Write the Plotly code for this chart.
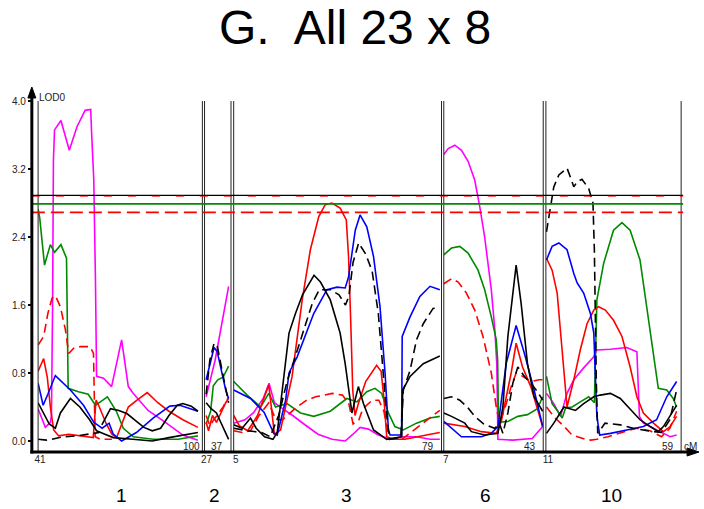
import plotly.graph_objects as go

W, H = 704, 509

# ---------------- data ----------------
CHROMS = ["1", "2", "3", "6", "10"]
CM_START = [41, 27, 5, 7, 11]
CM_END = [100, 37, 79, 43, 59]
Y_TICKS = [0.0, 0.8, 1.6, 2.4, 3.2, 4.0]
Y_TICK_TEXT = ["0.0", "0.8", "1.6", "2.4", "3.2", "4.0"]
THRESH_BLACK = 2.89
THRESH_GREEN = 2.79
THRESH_RED = 2.69

# chromosome 1  (cM, LOD)
C1_MAGENTA = [(41, 0.38), (43.6, 0.16), (45.4, 0.22), (45.8, 0.3), (46.2, 1.6), (46.5, 3.3), (46.9, 3.66),
              (49.2, 3.77), (52.2, 3.42), (55, 3.7), (57.9, 3.89), (59.9, 3.9), (60.2, 3.64), (61.0, 3.07),
              (61.6, 1.9), (62.0, 0.76), (64.5, 0.74), (67.4, 0.64), (71.0, 1.19), (73.4, 0.64), (75.2, 0.56),
              (80.5, 0.36), (87.1, 0.21), (93.0, 0.07), (98.4, 0.01)]
C1_GREEN = [(41, 2.73), (41.6, 2.62), (43.3, 2.07), (45.4, 2.31), (46.9, 2.22), (49.2, 2.31), (51.2, 2.15),
            (51.8, 0.62), (55.5, 0.58), (59, 0.55), (61.6, 0.42), (65.9, 0.52), (69.1, 0.35), (71.6, 0.15),
            (75.2, 0.05), (82.3, 0.02), (91.3, 0.02), (98.4, 0.06)]
C1_RED_DASH = [(41, 1.13), (43, 1.23), (44.5, 1.5), (46, 1.68), (47.2, 1.71), (49, 1.58), (50.8, 1.31),
               (52, 1.03), (53.7, 1.09), (56.1, 1.11), (59.7, 1.11), (60.9, 1.03), (61.2, 0.5), (61.5, 0.05),
               (63.3, 0.02), (67.5, 0.02)]
C1_RED = [(41, 0.82), (43, 0.97), (44.3, 0.75), (45.4, 0.4), (46.6, 0.13), (48.4, 0.06), (52, 0.08), (56, 0.06),
          (60.8, 0.04), (61.8, 0.48), (63, 0.4), (65.5, 0.2), (67.5, 0.08), (69.2, 0.04), (71, 0.2), (73.4, 0.4),
          (76.5, 0.48), (80.2, 0.57), (84, 0.45), (88, 0.35), (93, 0.25), (98.4, 0.16)]
C1_BLUE = [(41, 0.68), (42.8, 0.42), (44.5, 0.55), (47.2, 0.77), (52.6, 0.6), (57.3, 0.42), (61, 0.22),
           (64, 0.15), (66.5, 0.21), (68, 0.08), (71, 0.0), (76.3, 0.1), (82.3, 0.27), (88.3, 0.41),
           (91.9, 0.42), (98.4, 0.35)]
C1_BLACK = [(41, 0.45), (43, 0.32), (45, 0.2), (47.2, 0.15), (49, 0.33), (52.6, 0.5), (56, 0.4), (59.5, 0.25),
            (62, 0.12), (65, 0.08), (68, 0.04), (75, 0.02), (82, 0.0), (88, 0.04), (95, 0.08), (98.4, 0.1)]
C1_BLACK_B = [(63.9, 0.19), (67, 0.38), (70, 0.36), (73, 0.32), (76, 0.24), (79, 0.16), (82, 0.12), (85, 0.15),
              (88, 0.3), (91, 0.42), (93, 0.44), (96, 0.41), (98.4, 0.35)]
C1_BLACK_DASH = [(41, 0.02), (44, 0.01), (46, 0.02), (50, 0.05), (55, 0.06), (60, 0.08), (63, 0.1)]

# chromosome 2
C2_MAGENTA = [(27.6, 0.52), (31, 0.95), (36.1, 1.82)]
C2_BLACK_DASH = [(27.6, 0.55), (29, 0.95), (30.6, 1.15), (31.8, 1.12), (33.5, 0.85), (35, 0.6), (36.1, 0.45)]
C2_BLUE = [(27.6, 0.72), (29, 0.9), (30.6, 1.1), (31.8, 1.05), (33.5, 0.8), (35, 0.6), (36.1, 0.5)]
C2_BLACK = [(27.6, 0.45), (29.5, 0.38), (31.5, 0.33), (33.5, 0.2), (35.5, 0.05), (36.1, 0.02)]
C2_GREEN = [(27.6, 0.2), (29.3, 0.35), (30.3, 0.65), (32, 0.72), (34, 0.75), (36.1, 0.88)]
C2_RED = [(27.6, 0.22), (28.5, 0.12), (30, 0.3), (31.5, 0.22), (33.5, 0.35), (35, 0.45), (36.1, 0.5)]
C2_RED_DASH = [(27.6, 0.3), (29, 0.18), (30.5, 0.25), (32, 0.32), (34, 0.4), (36.1, 0.52)]

# chromosome 3
C3_RED = [(5, 0.3), (7, 0.18), (10, 0.12), (13.5, 0.3), (17.5, 0.66), (19.5, 0.08), (21.7, 0.13), (25.8, 0.76),
          (29.4, 1.66), (32.3, 2.25), (35.3, 2.64), (37.6, 2.78), (40, 2.80), (42.9, 2.74), (45.1, 2.6),
          (45.9, 2.17), (46.7, 1.38), (47.4, 0.6), (48.2, 0.3), (49.5, 0.45), (52, 0.7), (55.9, 0.89),
          (57.5, 0.82), (58.5, 0.5), (59.5, 0.05), (62, 0.02), (66, 0.02), (70, 0.05), (75, 0.08), (78.4, 0.1)]
C3_RED_DASH = [(5, 0.12), (8, 0.1), (11, 0.12), (14, 0.3), (17.5, 0.45), (20, 0.25), (22.4, 0.25), (27.1, 0.39),
               (31, 0.48), (34.2, 0.52), (40.1, 0.56), (43.7, 0.54), (46, 0.44), (47.5, 0.2), (49.6, 0.25),
               (51, 0.38), (54.3, 0.48), (56.7, 0.48), (58.5, 0.35), (60.2, 0.03), (64.9, 0.02), (70, 0.15),
               (75, 0.28), (78.4, 0.36)]
C3_BLACK = [(5, 0.19), (8, 0.15), (11, 0.27), (13, 0.15), (16, 0.05), (19, 0.02), (20.5, 0.1), (22.4, 0.64),
            (24.7, 1.27), (27, 1.5), (29.5, 1.72), (33.6, 1.95), (35.9, 1.87), (39.4, 1.66), (42.9, 1.27),
            (44.7, 0.91), (45.9, 0.6), (47.1, 0.33), (49.4, 0.64), (51.2, 0.44), (54.8, 0.13), (59.5, 0.02),
            (64.8, 0.05), (65.2, 0.6), (67.8, 0.76), (72.5, 0.91), (78.4, 1.0)]
C3_BLACK_DASH = [(5, 0.15), (10, 0.12), (15, 0.1), (18, 0.05), (21, 0.3), (24, 0.7), (27, 1.0), (30, 1.3),
                 (33, 1.62), (35.5, 1.78), (39.5, 1.78), (42.5, 1.72), (44.8, 1.6), (46, 1.7), (47.5, 2.1),
                 (49.5, 2.33), (52, 2.2), (54.3, 2.0), (56.5, 1.5), (58, 0.9), (59.5, 0.3), (60.5, 0.02),
                 (64.5, 0.04), (65.4, 0.6), (67.8, 0.83), (70.1, 1.19), (72.5, 1.38), (76, 1.56), (78.4, 1.57)]
C3_BLUE = [(5, 0.6), (11, 0.5), (15.8, 0.34), (19.3, 0.09), (20.5, 0.07), (23.5, 0.48), (24.7, 0.8),
           (27.6, 0.99), (33.5, 1.5), (38.2, 1.78), (41.8, 1.81), (44.7, 1.8), (45.9, 1.93), (48.3, 2.48),
           (50, 2.66), (52.4, 2.52), (54.8, 2.17), (57.1, 1.58), (58.9, 0.8), (60.1, 0.13), (60.7, 0.07),
           (64.8, 0.07), (65, 1.23), (67.8, 1.46), (71.3, 1.7), (74.9, 1.82), (78.4, 1.78)]
C3_GREEN = [(5, 0.7), (9.8, 0.54), (14.6, 0.4), (17.5, 0.56), (19.9, 0.4), (24, 0.44), (28.8, 0.33),
            (33.5, 0.29), (39.4, 0.35), (45.3, 0.5), (48.9, 0.46), (52.4, 0.58), (55.3, 0.62), (57.7, 0.56),
            (60.1, 0.33), (62.4, 0.17), (65.4, 0.13), (70.1, 0.21), (74.9, 0.27), (78.4, 0.29)]
C3_MAGENTA = [(5, 0.21), (9, 0.25), (12, 0.33), (15.5, 0.5), (17.6, 0.68), (19.5, 0.45), (22.4, 0.38),
              (26, 0.3), (30, 0.2), (35, 0.08), (40, 0.02), (44.7, 0.0), (47.5, 0.08), (50, 0.16), (53, 0.14),
              (56, 0.08), (60.5, 0.02), (65, 0.05), (70, 0.05), (75, 0.02), (78.4, 0.02)]

# chromosome 6
C6_MAGENTA = [(7, 3.37), (8.6, 3.44), (11, 3.48), (13.4, 3.42), (15.8, 3.29), (18.2, 3.07), (20, 2.76),
              (21.8, 2.4), (24.2, 1.78), (25.5, 1.3), (26.2, 0.9), (26.6, 0.02), (32, 0.01), (39, 0.03),
              (42.8, 0.17)]
C6_GREEN = [(7, 2.19), (9.8, 2.27), (12.8, 2.29), (15.8, 2.21), (19.4, 2.01), (21.8, 1.78), (24.2, 1.46),
            (26, 1.19), (26.5, 0.95), (26.8, 0.22), (30.2, 0.23), (33.8, 0.29), (37.3, 0.31), (40.9, 0.38),
            (42.8, 0.52)]
C6_RED_DASH = [(7, 1.85), (9.8, 1.91), (12.2, 1.87), (15.2, 1.74), (18.2, 1.54), (21.2, 1.23), (24.2, 0.8),
               (26, 0.4), (27.2, 0.21), (29, 0.37), (31.4, 0.64), (33.2, 0.8), (35.6, 0.76), (38.5, 0.7),
               (41.5, 0.72), (42.8, 0.72)]
C6_RED = [(7, 0.21), (14.6, 0.17), (20.6, 0.11), (26, 0.09), (27.8, 0.23), (31.4, 0.8), (33.2, 1.15),
          (35.5, 0.87), (38.5, 0.64), (42.8, 0.17)]
C6_BLUE = [(7, 0.23), (9.8, 0.15), (13.4, 0.05), (20.6, 0.05), (24.2, 0.09), (26.6, 0.17), (29.6, 0.91),
           (33.2, 1.36), (36.2, 1.03), (39.7, 0.6), (42.8, 0.17)]
C6_BLACK = [(7, 0.33), (9.8, 0.29), (14.6, 0.21), (17, 0.11), (21.8, 0.07), (26.6, 0.09), (28.4, 0.4),
            (30.2, 1.23), (33.2, 2.07), (35, 1.62), (37.3, 0.91), (39.7, 0.52), (42.8, 0.35)]
C6_BLACK_DASH = [(7, 0.5), (9.8, 0.52), (12.8, 0.48), (15.5, 0.4), (18.2, 0.29), (21.5, 0.2), (25.4, 0.15),
                 (27.2, 0.2), (28.4, 0.09), (30.2, 0.33), (32, 0.68), (33.8, 0.87), (36.2, 0.76), (38.5, 0.68),
                 (40.9, 0.58), (42.8, 0.48)]

# chromosome 10
C10_BLACK_DASH = [(11.2, 2.46), (12.6, 2.72), (13.8, 2.99), (15.6, 3.13), (18.5, 3.21), (19.5, 3.12),
                  (20.9, 2.99), (22.1, 3.05), (23.8, 3.08), (26.2, 2.97), (27.7, 2.8), (28.2, 2.25),
                  (28.5, 1.46), (28.9, 0.68), (29.4, 0.09), (32, 0.21), (37.4, 0.19), (42, 0.15), (47, 0.12),
                  (52, 0.1), (55, 0.25), (57.4, 0.6)]
C10_BLACK = [(11.2, 0.09), (13.8, 0.21), (17.4, 0.4), (19.5, 0.38), (21.5, 0.36), (24.4, 0.44), (28, 0.52),
             (30.3, 0.54), (33.9, 0.56), (37.4, 0.5), (40.9, 0.38), (44.4, 0.25), (48, 0.17), (50.9, 0.11),
             (52.7, 0.17), (55.1, 0.3), (57.4, 0.42)]
C10_BLUE = [(11.2, 2.13), (13.2, 2.29), (15.6, 2.33), (18.5, 2.25), (20.9, 1.97), (22.1, 1.86), (24.4, 1.74),
            (26.8, 1.5), (28, 1.27), (28.5, 0.87), (29.1, 0.29), (30.1, 0.07), (33.9, 0.09), (39.7, 0.13),
            (45.6, 0.17), (50.3, 0.25), (53.9, 0.52), (57.4, 0.7)]
C10_RED = [(11.2, 2.15), (13.2, 2.01), (15, 1.74), (16.2, 1.27), (17.4, 0.76), (18.5, 0.4), (20.9, 0.72),
           (23.2, 1.07), (25.6, 1.38), (28, 1.54), (29.7, 1.58), (32.1, 1.54), (35, 1.42), (38, 1.23),
           (40.9, 0.87), (43.3, 0.52), (45.6, 0.33), (49.2, 0.21), (52.7, 0.11), (55.1, 0.17), (57.4, 0.29)]
C10_RED_DASH = [(11.2, 0.4), (14, 0.28), (17.5, 0.17), (20, 0.08), (22.2, 0.05), (25, 0.02), (27, 0.01),
                (29, 0.02), (33, 0.05), (38, 0.1), (43, 0.15), (48, 0.12), (52, 0.05), (55, 0.15), (57.4, 0.35)]
C10_GREEN = [(11.2, 0.76), (13.2, 0.44), (15, 0.36), (16.8, 0.27), (18, 0.39), (20.3, 0.4), (23.2, 0.46),
             (26.2, 0.52), (28.2, 0.45), (29.1, 1.66), (31.5, 2.09), (35, 2.48), (38, 2.57), (40.9, 2.48),
             (44.4, 2.13), (46.8, 1.58), (49.2, 1.07), (50.9, 0.62), (53.9, 0.6), (56.2, 0.5), (57.4, 0.4)]
C10_MAGENTA = [(11.2, 0.56), (13.8, 0.44), (16.2, 0.29), (18.5, 0.56), (20.9, 0.72), (24.4, 0.86), (28, 0.99),
               (29.1, 1.07), (33.9, 1.08), (39.7, 1.1), (43.3, 1.05), (44.2, 0.29), (45.6, 0.21), (49.2, 0.15),
               (52.7, 0.09), (55.1, 0.05), (57.4, 0.07)]

SERIES = [
    (0, "magenta", C1_MAGENTA), (0, "green", C1_GREEN), (0, "red_dash", C1_RED_DASH), (0, "red", C1_RED),
    (0, "blue", C1_BLUE), (0, "black", C1_BLACK), (0, "black", C1_BLACK_B), (0, "black_dash", C1_BLACK_DASH),
    (1, "magenta", C2_MAGENTA), (1, "green", C2_GREEN), (1, "red_dash", C2_RED_DASH), (1, "red", C2_RED),
    (1, "blue", C2_BLUE), (1, "black", C2_BLACK), (1, "black_dash", C2_BLACK_DASH),
    (2, "magenta", C3_MAGENTA), (2, "green", C3_GREEN), (2, "red_dash", C3_RED_DASH), (2, "red", C3_RED),
    (2, "blue", C3_BLUE), (2, "black", C3_BLACK), (2, "black_dash", C3_BLACK_DASH),
    (3, "magenta", C6_MAGENTA), (3, "green", C6_GREEN), (3, "red_dash", C6_RED_DASH), (3, "red", C6_RED),
    (3, "blue", C6_BLUE), (3, "black", C6_BLACK), (3, "black_dash", C6_BLACK_DASH),
    (4, "magenta", C10_MAGENTA), (4, "green", C10_GREEN), (4, "red_dash", C10_RED_DASH), (4, "red", C10_RED),
    (4, "blue", C10_BLUE), (4, "black", C10_BLACK), (4, "black_dash", C10_BLACK_DASH),
]

# ---------------- layout / style ----------------
PANEL_PX = [(34.3, 199.5), (201.7, 228.3), (231, 440), (442.3, 542.3), (545, 681)]
END_LABEL_RIGHT_PX = [199.5, 222.5, 434, 537.5, 675.5]
CHROM_LABEL_PX = [118, 212, 344, 484, 611]
STYLE = {
    "magenta": dict(color="#FF00FF", dash="solid"),
    "green": dict(color="#008A00", dash="solid"),
    "red": dict(color="#FF0000", dash="solid"),
    "red_dash": dict(color="#FF0000", dash="9px,5px"),
    "blue": dict(color="#0000FF", dash="solid"),
    "black": dict(color="#000000", dash="solid"),
    "black_dash": dict(color="#000000", dash="9px,5px"),
}
FONT = "Arial, Liberation Sans, sans-serif"

AX_X = 28.0       # y axis pixel x
AX_Y = 452.0      # x axis pixel y
Y_TOP_PX = 92.0
LOD0_PX, LOD4_PX = 441.0, 101.0
ppu = (LOD0_PX - LOD4_PX) / 4.0
y_lo = -(AX_Y - LOD0_PX) / ppu
y_hi = 4.0 + (LOD4_PX - Y_TOP_PX) / ppu


def px(x):
    return x / W


def py(y):
    return 1 - y / H


def axid(i):
    return "x" if i == 0 else f"x{i + 1}"


fig = go.Figure()
for ci, key, pts in SERIES:
    st = STYLE[key]
    fig.add_trace(go.Scatter(
        x=[p[0] for p in pts], y=[p[1] for p in pts], mode="lines",
        line=dict(color=st["color"], width=1.6, dash=st["dash"]),
        xaxis=axid(ci), yaxis="y", showlegend=False, hoverinfo="skip"))

layout = dict(
    width=W, height=H, autosize=False,
    margin=dict(l=0, r=0, t=0, b=0),
    paper_bgcolor="white", plot_bgcolor="white",
    font=dict(family=FONT, color="#222"),
    showlegend=False,
)
for i in range(len(CHROMS)):
    a, b = PANEL_PX[i]
    layout["xaxis" if i == 0 else f"xaxis{i + 1}"] = dict(
        domain=[px(a), px(b)], range=[CM_START[i], CM_END[i]], anchor="y",
        showgrid=False, zeroline=False, showline=False,
        tickvals=[CM_START[i]], ticktext=[str(CM_START[i])], ticks="",
        tickfont=dict(size=10, family=FONT, color="#222"), ticklabelshift=2,
    )
layout["yaxis"] = dict(
    domain=[py(AX_Y), py(Y_TOP_PX)], range=[y_lo, y_hi], anchor="free", position=px(AX_X),
    showgrid=False, zeroline=False, showline=False,
    tickvals=Y_TICKS, ticktext=Y_TICK_TEXT, ticks="outside", ticklen=4, tickwidth=2, tickcolor="black",
    tickfont=dict(size=10, family=FONT, color="#222"),
)
fig.update_layout(**layout)

shapes = []
# panel borders
for i in range(len(CHROMS)):
    for side in (0, 1):
        shapes.append(dict(type="line", xref=f"{axid(i)} domain", yref="y", x0=side, x1=side,
                           y0=y_lo, y1=4.0, line=dict(color="#222", width=1)))
# thresholds
x_thr0, x_thr1 = px(AX_X), px(683)
shapes.append(dict(type="line", xref="paper", yref="y", x0=x_thr0, x1=x_thr1, y0=THRESH_BLACK, y1=THRESH_BLACK,
                   line=dict(color="black", width=1.4)))
shapes.append(dict(type="line", xref="paper", yref="y", x0=x_thr0, x1=x_thr1, y0=THRESH_BLACK - 0.01,
                   y1=THRESH_BLACK - 0.01, line=dict(color="#FF0000", width=0.9, dash="8px,16px")))
shapes.append(dict(type="line", xref="paper", yref="y", x0=x_thr0, x1=x_thr1, y0=THRESH_GREEN, y1=THRESH_GREEN,
                   line=dict(color="#008A00", width=1.6)))
shapes.append(dict(type="line", xref="paper", yref="y", x0=x_thr0, x1=x_thr1, y0=THRESH_RED, y1=THRESH_RED,
                   line=dict(color="#FF0000", width=1.6, dash="13px,6px")))
# axis lines and arrowheads
shapes.append(dict(type="line", xref="paper", yref="paper", x0=px(AX_X), x1=px(AX_X), y0=py(AX_Y + 1.5),
                   y1=py(96), line=dict(color="black", width=3)))
shapes.append(dict(type="line", xref="paper", yref="paper", x0=px(AX_X - 1.5), x1=px(690), y0=py(AX_Y),
                   y1=py(AX_Y), line=dict(color="black", width=3)))
shapes.append(dict(type="path", xref="paper", yref="paper",
                   path=f"M {px(AX_X)},{py(87)} L {px(AX_X - 4)},{py(98)} L {px(AX_X + 4)},{py(98)} Z",
                   fillcolor="black", line=dict(color="black", width=1)))
shapes.append(dict(type="path", xref="paper", yref="paper",
                   path=f"M {px(699)},{py(AX_Y)} L {px(687)},{py(AX_Y - 4)} L {px(687)},{py(AX_Y + 4)} Z",
                   fillcolor="black", line=dict(color="black", width=1)))
fig.update_layout(shapes=shapes)

ann = []
ann.append(dict(text="G.\u00a0 All 23 x 8", x=px(353), y=py(27), xref="paper", yref="paper",
                xanchor="center", yanchor="middle", showarrow=False,
                font=dict(size=48, family=FONT, color="black")))
ann.append(dict(text="LOD0", x=px(33), y=py(97), xref="paper", yref="paper", xanchor="left",
                yanchor="middle", showarrow=False, font=dict(size=10, family=FONT, color="#222")))
ann.append(dict(text="cM", x=px(681.5), y=py(446), xref="paper", yref="paper", xanchor="left",
                yanchor="middle", showarrow=False, font=dict(size=10, family=FONT, color="#222")))
for i in range(len(CHROMS)):
    ann.append(dict(text=str(CM_END[i]), x=px(END_LABEL_RIGHT_PX[i]), y=py(446), xref="paper", yref="paper",
                    xanchor="right", yanchor="middle", showarrow=False,
                    font=dict(size=10, family=FONT, color="#222")))
    ann.append(dict(text=CHROMS[i], x=px(CHROM_LABEL_PX[i]), y=py(495), xref="paper", yref="paper",
                    xanchor="center", yanchor="middle", showarrow=False,
                    font=dict(size=19, family=FONT, color="black")))
fig.update_layout(annotations=ann)

fig.write_html("out.html", config={"displayModeBar": False, "staticPlot": True},
               post_script="document.body.style.margin='0px';document.body.style.padding='0px';"
                           "document.documentElement.style.overflow='hidden';")
